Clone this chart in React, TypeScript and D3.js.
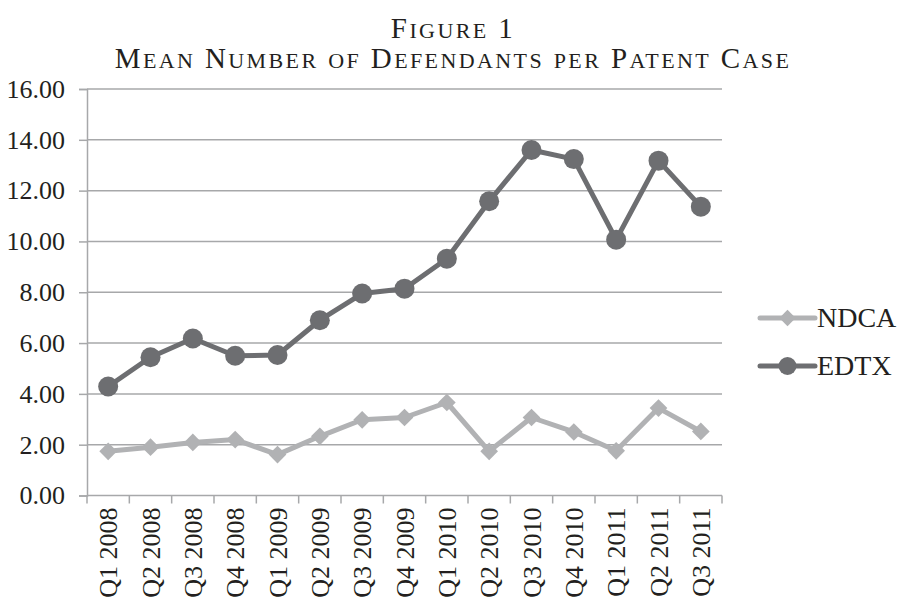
import React, { useEffect, useRef } from 'react';
import * as d3 from 'd3';

const quarters = [
  'Q1 2008', 'Q2 2008', 'Q3 2008', 'Q4 2008',
  'Q1 2009', 'Q2 2009', 'Q3 2009', 'Q4 2009',
  'Q1 2010', 'Q2 2010', 'Q3 2010', 'Q4 2010',
  'Q1 2011', 'Q2 2011', 'Q3 2011',
];
const ndca = [1.74, 1.9, 2.09, 2.2, 1.61, 2.33, 2.98, 3.07, 3.66, 1.74, 3.07, 2.5, 1.76, 3.44, 2.52];
const edtx = [4.29, 5.44, 6.18, 5.5, 5.53, 6.9, 7.95, 8.14, 9.32, 11.58, 13.6, 13.24, 10.07, 13.18, 11.37];
const yTicks = [0, 2, 4, 6, 8, 10, 12, 14, 16];

const W = 910;
const H = 607;
const margin = { top: 89, right: 188, bottom: 111.5, left: 87 };
const FONT = '"Liberation Serif", "Times New Roman", serif';
const NDCA_COLOR = '#b1b2b4';
const EDTX_COLOR = '#6d6e71';
const GRID = '#a7a8aa';

const App: React.FC = () => {
  const svgRef = useRef<SVGSVGElement>(null);

  useEffect(() => {
    if (!svgRef.current) return;
    const svg = d3.select(svgRef.current);
    svg.selectAll('*').remove();

    const innerW = W - margin.left - margin.right;
    const innerH = H - margin.top - margin.bottom;

    const x = d3.scaleBand().domain(quarters).range([0, innerW]);
    const y = d3.scaleLinear().domain([0, 16]).range([innerH, 0]);

    // title, hand-made small caps: capitals full size, the rest uppercased smaller
    const titles = [
      { text: 'Figure 1', y: 38 },
      { text: 'Mean Number of Defendants per Patent Case', y: 68 },
    ];
    const big = 29;
    const small = 22;
    titles.forEach(t => {
      const txt = svg.append('text')
        .attr('x', 453).attr('y', t.y)
        .attr('text-anchor', 'middle')
        .attr('font-family', FONT)
        .attr('letter-spacing', 2.4)
        .attr('fill', '#231f20');
      // split into runs of same case
      const runs: { s: string; up: boolean }[] = [];
      for (const ch of t.text) {
        const up = ch !== ch.toLowerCase() || /[0-9 ]/.test(ch);
        const last = runs[runs.length - 1];
        if (last && last.up === up) last.s += ch;
        else runs.push({ s: ch, up });
      }
      runs.forEach(r => {
        txt.append('tspan')
          .attr('font-size', r.up ? big : small)
          .text(r.s.toUpperCase());
      });
    });

    const g = svg.append('g').attr('transform', `translate(${margin.left},${margin.top})`);

    // gridlines
    g.append('g')
      .selectAll('line')
      .data(yTicks.filter(t => t > 0))
      .join('line')
      .attr('x1', 0).attr('x2', innerW)
      .attr('y1', d => y(d)).attr('y2', d => y(d))
      .attr('stroke', GRID).attr('stroke-width', 1.5);

    // y axis
    const yAxis = g.append('g')
      .call(d3.axisLeft(y).tickValues(yTicks).tickSize(8).tickPadding(14).tickFormat(d => (d as number).toFixed(2)));
    yAxis.select('.domain').attr('stroke', GRID).attr('stroke-width', 1.5);
    yAxis.selectAll('.tick line').attr('stroke', GRID).attr('stroke-width', 1.5);
    yAxis.selectAll('.tick text')
      .attr('font-family', FONT).attr('font-size', 26).attr('fill', '#231f20');

    // x axis, ticks sit on the category boundaries
    const xg = g.append('g').attr('transform', `translate(0,${innerH})`);
    xg.append('line')
      .attr('x1', 0).attr('x2', innerW).attr('y1', 0).attr('y2', 0)
      .attr('stroke', GRID).attr('stroke-width', 1.5);
    const bounds = quarters.map(q => x(q)!).concat([innerW]);
    xg.selectAll('line.tk')
      .data(bounds)
      .join('line')
      .attr('class', 'tk')
      .attr('x1', d => d).attr('x2', d => d)
      .attr('y1', 0).attr('y2', 8)
      .attr('stroke', GRID).attr('stroke-width', 1.5);
    xg.selectAll('text')
      .data(quarters)
      .join('text')
      .attr('transform', d => `translate(${x(d)! + x.bandwidth() / 2 + 9},${12}) rotate(-90)`)
      .attr('text-anchor', 'end')
      .attr('font-family', FONT).attr('font-size', 26).attr('fill', '#231f20')
      .text(d => d);

    const cx = (i: number) => x(quarters[i])! + x.bandwidth() / 2;
    const line = d3.line<number>().x((_, i) => cx(i)).y(d => y(d));

    // NDCA
    g.append('path')
      .attr('d', line(ndca) || '')
      .attr('fill', 'none').attr('stroke', NDCA_COLOR)
      .attr('stroke-width', 5).attr('stroke-linejoin', 'round');
    g.selectAll('path.dia')
      .data(ndca)
      .join('path')
      .attr('class', 'dia')
      .attr('d', d3.symbol().type(d3.symbolDiamond2).size(200)())
      .attr('transform', (d, i) => `translate(${cx(i)},${y(d)})`)
      .attr('fill', NDCA_COLOR);

    // EDTX
    g.append('path')
      .attr('d', line(edtx) || '')
      .attr('fill', 'none').attr('stroke', EDTX_COLOR)
      .attr('stroke-width', 5).attr('stroke-linejoin', 'round');
    g.selectAll('circle.dot')
      .data(edtx)
      .join('circle')
      .attr('class', 'dot')
      .attr('cx', (_, i) => cx(i)).attr('cy', d => y(d))
      .attr('r', 10)
      .attr('fill', EDTX_COLOR);

    // legend
    const legend = [
      { name: 'NDCA', color: NDCA_COLOR, shape: 'diamond', y: 318 },
      { name: 'EDTX', color: EDTX_COLOR, shape: 'circle', y: 366 },
    ];
    legend.forEach(item => {
      const lg = svg.append('g').attr('transform', `translate(760,${item.y})`);
      lg.append('line')
        .attr('x1', 0).attr('x2', 55).attr('y1', 0).attr('y2', 0)
        .attr('stroke', item.color).attr('stroke-width', 5).attr('stroke-linecap', 'round');
      if (item.shape === 'diamond') {
        lg.append('path')
          .attr('d', d3.symbol().type(d3.symbolDiamond2).size(170)())
          .attr('transform', 'translate(27.5,0)')
          .attr('fill', item.color);
      } else {
        lg.append('circle').attr('cx', 27.5).attr('cy', 0).attr('r', 9).attr('fill', item.color);
      }
      lg.append('text')
        .attr('x', 57).attr('y', 9)
        .attr('font-family', FONT).attr('font-size', 28).attr('fill', '#231f20')
        .text(item.name);
    });
  }, []);

  return (
    <svg
      ref={svgRef}
      width={W}
      height={H}
      style={{ position: 'absolute', left: 0, top: 0, background: '#fff' }}
    />
  );
};

export default App;
